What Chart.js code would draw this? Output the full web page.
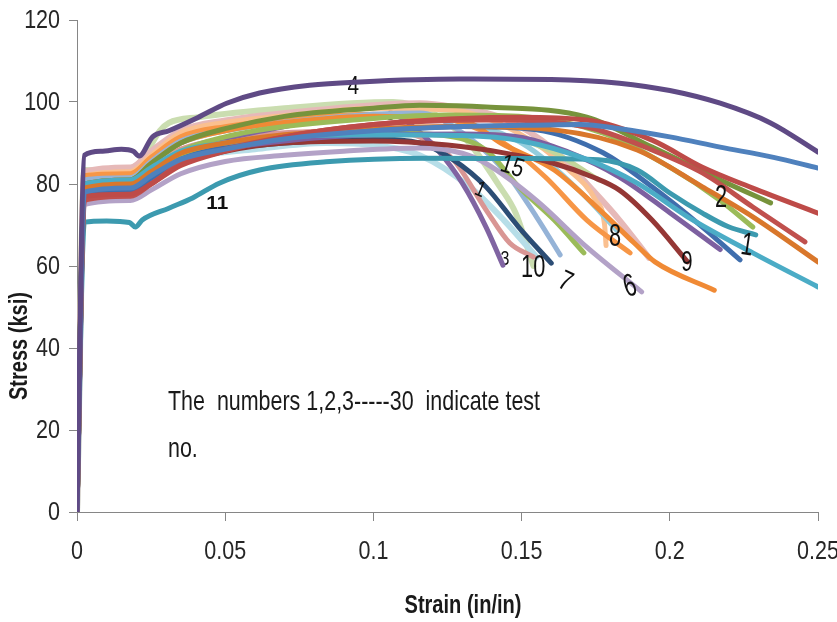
<!DOCTYPE html>
<html><head><meta charset="utf-8">
<script src="https://cdn.jsdelivr.net/npm/chart.js@4.4.0/dist/chart.umd.min.js"></script>
<style>html,body{margin:0;padding:0;background:#fff;} #wrap{width:837px;height:622px;}</style>
</head><body><div id="wrap"><canvas id="c" width="837" height="622"></canvas></div>
<script>
// ---------------- DATA (strain in/in, stress ksi) ----------------
const xTickValues = [0, 0.05, 0.1, 0.15, 0.2, 0.25];
const yTickValues = [0, 20, 40, 60, 80, 100, 120];

const test4  = [[0,0],[0.0025,87],[0.008,88],[0.015,88.5],[0.019,88],[0.021,86.8],[0.0255,91.5],[0.031,93],[0.041,96.3],[0.0505,99.7],[0.0616,102.2],[0.0785,104.1],[0.0954,104.9],[0.129,105.6],[0.16,105.5],[0.183,104.6],[0.2,102.8],[0.217,99.7],[0.234,94.9],[0.25,87.8]];
const test11 = [[0,0],[0.0025,70.7],[0.01,71],[0.0177,70.6],[0.0197,69.5],[0.022,71.2],[0.031,74.1],[0.039,76.6],[0.048,80.2],[0.0616,83.4],[0.084,85.4],[0.118,86.3],[0.15,86.2],[0.176,85.9],[0.189,83.4],[0.2,77.8],[0.211,72.9],[0.22,69.5],[0.229,67.6]];
const curveBlue   = [[0,0],[0.0025,78],[0.018,79],[0.025,82],[0.035,86],[0.05,88.5],[0.07,91],[0.1,93],[0.13,94],[0.15,94.3],[0.17,94.5],[0.183,93.5],[0.2,91.5],[0.217,89],[0.235,86.5],[0.25,83.9]];
const curveRed1   = [[0,0],[0.0025,77],[0.018,77.5],[0.025,80],[0.035,84.5],[0.05,88],[0.07,91.5],[0.1,94.5],[0.13,96],[0.149,96.3],[0.172,95.6],[0.194,90.7],[0.211,84.1],[0.228,79],[0.25,72.9]];
const curveRed2   = [[0,0],[0.0025,76],[0.018,77],[0.025,80],[0.035,85],[0.05,88.5],[0.07,91.5],[0.1,94.5],[0.138,95.6],[0.172,93.9],[0.194,88.3],[0.211,82.7],[0.228,74.4],[0.2456,65.9]];
const curveBrown  = [[0,0],[0.0025,79],[0.018,80],[0.025,83],[0.035,87.5],[0.05,90],[0.07,92],[0.1,93.5],[0.13,94],[0.161,93.2],[0.189,88.3],[0.211,79.3],[0.228,72],[0.25,61]];
const curveTeal   = [[0,0],[0.0025,80],[0.018,81],[0.025,84],[0.035,88],[0.05,90],[0.07,91.5],[0.1,92],[0.13,91.8],[0.15,90.5],[0.172,86],[0.189,80.2],[0.206,72],[0.228,63.2],[0.25,54.9]];
const curveGreen1 = [[0,0],[0.0025,80],[0.018,81],[0.025,85],[0.035,90],[0.05,93.5],[0.07,96.5],[0.1,98.5],[0.1156,99.2],[0.138,98.8],[0.172,96.3],[0.194,89],[0.217,81],[0.234,75.4]];
const test2       = [[0,0],[0.0025,79],[0.018,80],[0.025,83],[0.035,88],[0.05,91.5],[0.07,94],[0.1,96],[0.125,96.8],[0.149,96.5],[0.1775,92.4],[0.2,84.1],[0.217,76],[0.228,69.5]];
const test1       = [[0,0],[0.0025,78],[0.018,78.5],[0.025,81.5],[0.035,86],[0.05,89],[0.07,91.5],[0.1,93],[0.13,94],[0.155,93.2],[0.1775,87.6],[0.194,79.3],[0.211,69.5],[0.2237,61.5]];
const curvePurple = [[0,0],[0.0025,77],[0.018,78],[0.025,81],[0.035,85.5],[0.05,88.5],[0.07,90.5],[0.1,92],[0.13,92.2],[0.149,91.5],[0.165,88],[0.183,81.7],[0.2,73],[0.217,64]];
const test9       = [[0,0],[0.0025,78],[0.018,78.5],[0.025,81],[0.035,85],[0.05,88],[0.07,90],[0.1,90.5],[0.125,89.5],[0.144,87.6],[0.161,85],[0.174,81.7],[0.183,78.5],[0.194,71.2],[0.206,61]];
const curveOrange1= [[0,0],[0.0025,80],[0.018,81],[0.025,85],[0.035,90],[0.05,93],[0.07,95],[0.1,96.5],[0.12,96],[0.1325,94.9],[0.143,90],[0.161,83.4],[0.1775,72.9],[0.188,65.6],[0.195,61],[0.215,54.1]];
const test6       = [[0,0],[0.0025,75],[0.018,76],[0.025,78.5],[0.035,82.5],[0.05,85.5],[0.07,87],[0.09,88],[0.1156,88.8],[0.13,87.5],[0.138,85],[0.155,76],[0.172,64.6],[0.1905,53.7]];
const curvePink1  = [[0,0],[0.0025,83],[0.018,84],[0.025,88],[0.035,93],[0.05,95.5],[0.08,98],[0.1156,99.7],[0.127,98.8],[0.144,96],[0.161,88.3],[0.174,78.5],[0.183,71.2],[0.193,62]];
const test8       = [[0,0],[0.0025,82],[0.018,83],[0.025,87],[0.035,92.5],[0.05,95],[0.075,97],[0.1,98.5],[0.127,98],[0.149,92.4],[0.166,83.4],[0.175,76],[0.178,70],[0.1785,65]];
const curveOrange2= [[0,0],[0.0025,82],[0.018,82.5],[0.025,86.5],[0.035,91.5],[0.05,94],[0.075,96],[0.1,97],[0.115,96.5],[0.127,95.6],[0.144,90],[0.158,81.7],[0.172,71.2],[0.1866,63.2]];
const curveGreen2 = [[0,0],[0.0025,79],[0.018,79.5],[0.025,82.5],[0.035,86.5],[0.05,89.5],[0.07,91.5],[0.1,92.5],[0.121,92],[0.138,88.3],[0.149,79.3],[0.161,71.2],[0.171,63.2]];
const curveSage   = [[0,0],[0.0025,80],[0.018,80.5],[0.025,84],[0.035,88],[0.05,90],[0.07,91.5],[0.1,92],[0.14,92],[0.16,88],[0.176,81]];
const test7       = [[0,0],[0.0025,81],[0.018,81.5],[0.025,85.5],[0.035,90.5],[0.05,93],[0.075,95.5],[0.1,97],[0.1156,97.3],[0.127,94],[0.144,83.4],[0.155,72],[0.163,62.7]];
const curveNavy   = [[0,0],[0.0025,79],[0.018,79],[0.025,82],[0.035,86],[0.05,88.5],[0.07,90],[0.1,91],[0.1156,90],[0.127,85.9],[0.138,79.3],[0.149,69.5],[0.16,60.7]];
const curveIce    = [[0,0],[0.0025,76],[0.0166,79],[0.022,80],[0.028,84],[0.039,86.6],[0.06,88.5],[0.084,90],[0.1,89.5],[0.1156,87],[0.1325,79.3],[0.144,71.2],[0.155,62.2]];
const test10      = [[0,0],[0.0025,80],[0.018,80.5],[0.025,84],[0.035,88.5],[0.05,91],[0.07,92.5],[0.1,93],[0.1156,91.5],[0.127,85.9],[0.138,73.7],[0.146,65.6],[0.154,62.2]];
const curveCyan   = [[0,0],[0.0025,81],[0.018,82],[0.025,85.5],[0.035,90],[0.05,93],[0.075,95.5],[0.1,97],[0.13,95],[0.15,90],[0.17,78],[0.182,68.8]];
const test3       = [[0,0],[0.0025,78],[0.018,79],[0.025,82.5],[0.035,87.5],[0.05,91],[0.07,94],[0.09,96.5],[0.1066,96.8],[0.115,93],[0.122,88],[0.13,80.2],[0.138,69.5],[0.1437,60.2]];
const test15      = [[0,0],[0.0025,83.4],[0.0166,82.5],[0.022,86],[0.028,93],[0.031,94.9],[0.041,96.3],[0.07,98.5],[0.1066,100],[0.12,97.3],[0.1315,90.7],[0.1427,79.3],[0.148,72.9],[0.154,60]];

// test-number labels drawn on the plot (value coordinates)
const labelTexts  = ['4','3','11','15','1','2','8','1','9','10','6','7','3'];
const labelStrain = [0.0932,0.1056,0.0473,0.1468,0.1360,0.2173,0.1815,0.2261,0.2058,0.1539,0.1866,0.1647,0.1444];
const labelStress = [103.6,97.3,75.1,84.1,78.5,76.6,67.1,64.9,60.7,59.5,54.9,56.1,61.5];

// ---------------- STYLES ----------------
const seriesList = [
  [test4,'#5F4A85',5],[curveBlue,'#4F81BD',5],[curveRed1,'#BE4B48',5],[curveRed2,'#C0504D',5],
  [curveBrown,'#D9772B',5],[curveTeal,'#4BACC6',5],[curveGreen1,'#77933C',5],[test2,'#9BBB59',5],
  [test11,'#3C9AAF',5],[test1,'#3F6EAD',5],[curvePurple,'#7D60A0',5],[test9,'#953735',5],
  [curveOrange1,'#F08A35',5],[test6,'#B3A2C7',5],[curveGreen2,'#9BBB59',5],[curveSage,'#C3D69B',5],
  [curveNavy,'#2C4D75',5],[test7,'#95B3D7',5],[curveOrange2,'#F79646',5],[test3,'#8064A2',5],
  [test10,'#D99694',5],[curveCyan,'#93CDDD',5],[test8,'#FAC090',5],[curvePink1,'#E6B9B8',6],
  [curveIce,'#B7DEE8',6],[test15,'#CADDB0',6]
];
const labelFonts = ['26px','24px','bold 18px','26px','22px','32px','32px','32px','30px','32px','32px','28px','20px'];
const labelSqueeze = [0.8,0.8,1.15,0.8,0.8,0.68,0.68,0.68,0.68,0.68,0.68,0.8,0.8];
const labelRot   = [0,0,0,0.3,0.4,0,0,0.15,0,0,-0.3,0.45,0];
const labelUnder = [true,true,false,false,false,false,false,false,false,false,false,false,true];

const FONT = '"Liberation Sans", Arial, sans-serif';
const AXIS = '#868686';

const datasets = seriesList.map(([pts,color,w]) => ({
  data: pts.map(p => ({x:p[0], y:p[1]})),
  borderColor: color, backgroundColor: color, borderWidth: w,
  showLine: true, pointRadius: 0, pointHoverRadius: 0,
  cubicInterpolationMode: 'monotone', borderCapStyle: 'round', borderJoinStyle: 'round', fill: false
}));

function squeezed(ctx, text, x, y, sx, align, rot){
  ctx.save();
  ctx.translate(x, y);
  if (rot) ctx.rotate(rot);
  ctx.scale(sx, 1);
  ctx.textAlign = align || 'center';
  ctx.fillText(text, 0, 0);
  ctx.restore();
}

function drawLabels(chart, under){
  const ctx = chart.ctx, xs = chart.scales.x, ys = chart.scales.y;
  ctx.save();
  ctx.fillStyle = '#111';
  ctx.textBaseline = 'middle';
  labelTexts.forEach((t,i) => {
    if (labelUnder[i] !== under) return;
    ctx.font = labelFonts[i] + ' ' + FONT;
    squeezed(ctx, t, xs.getPixelForValue(labelStrain[i]), ys.getPixelForValue(labelStress[i]), labelSqueeze[i], 'center', labelRot[i]);
  });
  ctx.restore();
}

const notesPlugin = {
  id: 'notes',
  beforeDatasetsDraw(chart){ drawLabels(chart, true); },
  afterDatasetsDraw(chart){ drawLabels(chart, false); },
  afterDraw(chart){
    const ctx = chart.ctx, xs = chart.scales.x, ys = chart.scales.y;
    ctx.save();
    // tick labels, placed by the library's scales
    ctx.fillStyle = '#262626';
    ctx.textBaseline = 'middle';
    ctx.font = '25px ' + FONT;
    xs.ticks.forEach(t => squeezed(ctx, String(+t.value.toFixed(2)), xs.getPixelForValue(t.value), 552, 0.86, 'center'));
    ys.ticks.forEach(t => squeezed(ctx, String(t.value), 60, ys.getPixelForValue(t.value) + 1, 0.86, 'right'));
    // note
    ctx.fillStyle = '#1a1a1a';
    ctx.textBaseline = 'alphabetic';
    ctx.font = '28px ' + FONT;
    const note = 'The  numbers 1,2,3-----30  indicate test';
    const s = 372 / ctx.measureText(note).width;
    squeezed(ctx, note, 168, 410, s, 'left');
    squeezed(ctx, 'no.', 168, 457, s, 'left');
    // axis titles
    ctx.textBaseline = 'middle';
    ctx.font = 'bold 25px ' + FONT;
    const xt = 'Strain (in/in)';
    squeezed(ctx, xt, 463, 606, 117 / ctx.measureText(xt).width, 'center');
    const yt = 'Stress (ksi)';
    squeezed(ctx, yt, 20, 346, 108 / ctx.measureText(yt).width, 'center', -Math.PI/2);
    ctx.restore();
  }
};

new Chart(document.getElementById('c'), {
  type: 'scatter',
  data: { datasets },
  options: {
    responsive: false, animation: false, devicePixelRatio: 1,
    layout: { padding: { top: 20, right: 19, bottom: 0, left: 0 } },
    plugins: { legend: { display: false }, tooltip: { enabled: false } },
    scales: {
      x: {
        type: 'linear', min: 0, max: 0.25,
        afterBuildTicks: s => { s.ticks = xTickValues.map(v => ({value: v})); },
        afterFit: s => { s.height = 110; s.paddingLeft = 0; s.paddingRight = 0; },
        ticks: { display: false },
        grid: { drawOnChartArea: false, drawTicks: true, tickLength: 9, color: AXIS },
        border: { color: AXIS, width: 1 }
      },
      y: {
        min: 0, max: 120,
        afterBuildTicks: s => { s.ticks = yTickValues.map(v => ({value: v})); },
        afterFit: s => { s.width = 77; s.paddingTop = 0; s.paddingBottom = 0; },
        ticks: { display: false },
        grid: { drawOnChartArea: false, drawTicks: true, tickLength: 8, color: AXIS },
        border: { color: AXIS, width: 1 }
      }
    }
  },
  plugins: [notesPlugin]
});
</script>
</body></html>
